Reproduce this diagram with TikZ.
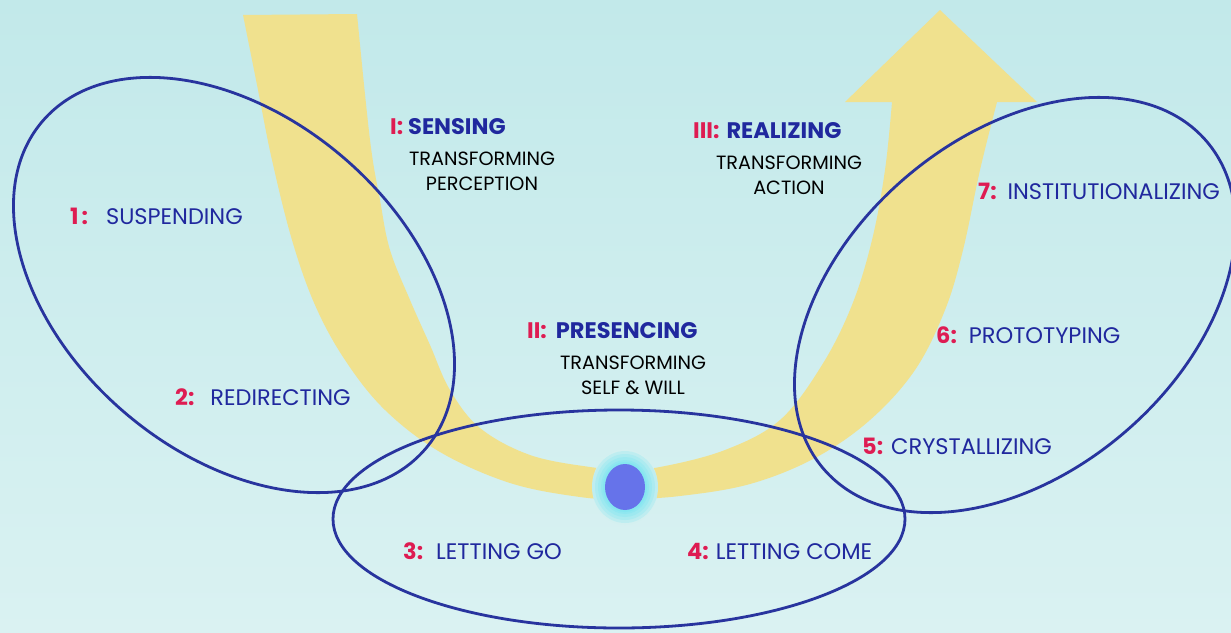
\documentclass[tikz,border=0pt]{standalone}
\usepackage{fontspec}
\setmainfont{Poppins}
\usepackage{xcolor}
\usepackage{tikz}
\usetikzlibrary{positioning,calc,shapes}
\definecolor{sky}{RGB}{194,233,234}
\definecolor{skylight}{RGB}{218,242,242}
\definecolor{skymid}{RGB}{212,240,240}
\definecolor{band}{RGB}{240,225,142}
\definecolor{ring}{RGB}{40,52,158}
\definecolor{phase}{RGB}{32,40,158}
\definecolor{num}{RGB}{222,28,82}
\definecolor{core}{RGB}{102,115,234}
\definecolor{glow}{RGB}{80,226,240}

\begin{document}
\begin{tikzpicture}[
    x=1pt, y=-1pt,
    ring/.style={draw=ring, line width=2.8pt},
    stage/.style={anchor=west, inner sep=0pt, text=phase, font=\fontsize{22.5}{26}\selectfont},
    phase/.style={anchor=west, inner sep=0pt, text=phase, font=\fontsize{22.5}{26}\selectfont\bfseries},
    sub/.style={align=center, inner sep=0pt, text=black, font=\fontsize{19.2}{25}\selectfont}
]
    % Background
    \useasboundingbox (0,0) rectangle (1231,632);
    \fill[top color=sky, bottom color=skylight] (0,0) rectangle (1231,632);

    % U-shaped arrow
    \fill[band] plot[smooth, tension=0.6] coordinates {
        (243,15) (258,90) (272,160) (292,240) (315,305) (345,360) (385,410)
        (440,452) (510,483) (580,497) (625,499) (680,496) (750,484) (815,458)
        (870,420) (915,370) (945,310) (963,250) (980,170) (997,102)}
        -- (1037,102) -- (940,10) -- (845,102) --
        plot[smooth, tension=0.6] coordinates {
        (892,102) (885,170) (872,240) (852,305) (822,365) (780,420) (725,450)
        (660,467) (625,469) (590,467) (530,455) (480,428) (450,390) (430,345)
        (410,300) (390,250) (380,200) (370,140) (357,14)}
        -- cycle;

    % Source
    \fill[skymid] (625,487) ellipse (33 and 38);
    \foreach \g in {13,10,7,4,2}
        \fill[glow, opacity=0.16] (625,487) ellipse ({20+\g} and {23+\g});
    \fill[core] (625,487) ellipse (20 and 23);

    % Fields
    \draw[ring, rotate around={-40.5:(234,285)}] (234,285) ellipse (252 and 168);
    \draw[ring] (619,519) ellipse (286 and 109);
    \draw[ring, rotate around={40.5:(1015,305)}] (1015,305) ellipse (252 and 168);

    % Movements
    \node[phase] (sensing) at (390,127) {\textcolor{num}{I:}\hspace{5pt}SENSING};
    \node[sub] (perception) at (482,171) {TRANSFORMING\\PERCEPTION};
    \node[phase] (presencing) at (527,331) {\textcolor{num}{II:}\hspace{9pt}PRESENCING};
    \node[sub] (selfwill) at (633,375) {TRANSFORMING\\SELF \& WILL};
    \node[phase] (realizing) at (693,131) {\textcolor{num}{III:}\hspace{7pt}REALIZING};
    \node[sub] (action) at (789,175) {TRANSFORMING\\ACTION};

    % Stages
    \node[stage] (suspending) at (70,216) {\textcolor{num}{\bfseries 1\hspace{3pt}:}\hspace{18pt}SUSPENDING};
    \node[stage] (redirecting) at (175,397) {\textcolor{num}{\bfseries 2:}\hspace{16pt}REDIRECTING};
    \node[stage] (lettinggo) at (403,551) {\textcolor{num}{\bfseries 3:}\hspace{13pt}LETTING GO};
    \node[stage] (lettingcome) at (687,551) {\textcolor{num}{\bfseries 4:}\hspace{7pt}LETTING COME};
    \node[stage] (crystallizing) at (862,446) {\textcolor{num}{\bfseries 5:}\hspace{8pt}CRYSTALLIZING};
    \node[stage] (prototyping) at (936,335) {\textcolor{num}{\bfseries 6:}\hspace{12pt}PROTOTYPING};
    \node[stage] (institutionalizing) at (978,191) {\textcolor{num}{\bfseries 7:}\hspace{11pt}INSTITUTIONALIZING};
\end{tikzpicture}
\end{document}
